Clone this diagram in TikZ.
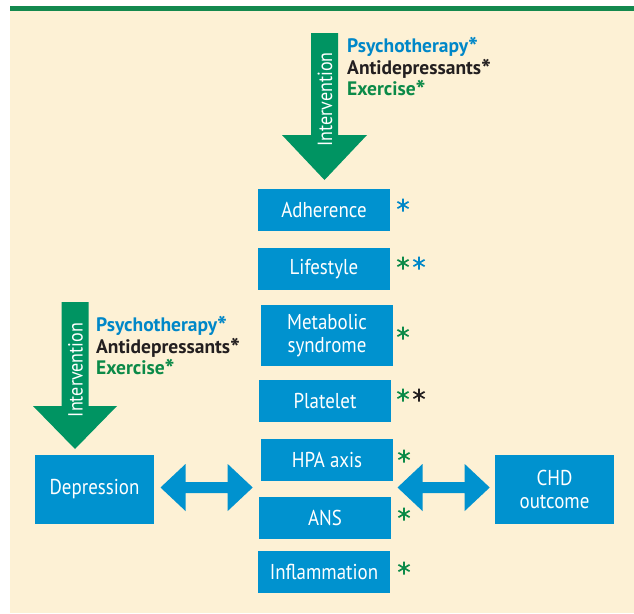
\documentclass[tikz,border=0pt]{standalone}
\usepackage{fontspec}
\setmainfont{PT Sans}
\newfontfamily\condfont[FakeStretch=0.88]{PT Sans}
\definecolor{cream}{HTML}{FDF1D5}
\definecolor{boxblue}{HTML}{0092CF}
\definecolor{arrgreen}{HTML}{009462}
\definecolor{linegreen}{HTML}{14894E}
\definecolor{txtblue}{HTML}{0087C8}
\definecolor{txtgreen}{HTML}{0B8A48}
\definecolor{txtblack}{HTML}{231F20}
\newcommand\bigast{\raisebox{-4pt}{\scalebox{1.35}{*}}}
\newcommand\treatlist{{\color{txtblue}Psychotherapy\bigast}\\{\color{txtblack}Antidepressants\bigast}\\{\color{txtgreen}Exercise\bigast}}
\begin{document}
\begin{tikzpicture}[x=1pt,y=-1pt,
  box/.style={fill=boxblue, text=white, inner sep=0pt, align=center,
    font=\condfont\fontsize{21.5}{22.5}\selectfont},
  sbox/.style={box, minimum width=132pt, minimum height=42pt},
  bbox/.style={box, minimum width=119pt, minimum height=69pt},
  side/.style={anchor=north west, inner sep=0pt, align=left,
    font=\bfseries\fontsize{19.5}{21.5}\selectfont},
  interv/.style={rotate=90, text=white, inner sep=0pt, font=\condfont\fontsize{20.5}{20.5}\selectfont},
  astk/.pic={\draw[line width=1.7pt, pic actions] (0,-6.5)--(0,6.5) (-5.6,-3.25)--(5.6,3.25) (-5.6,3.25)--(5.6,-3.25);},
  blockarrow/.style={fill=boxblue}
]
\useasboundingbox (0,0) rectangle (634,613);
\fill[white] (0,0) rectangle (634,613);
\fill[cream] (10,11) rectangle (634,613);
\fill[linegreen] (10,6) rectangle (634,11);

% intervention arrows
\fill[arrgreen] (311,33)--(338,33)--(338,135)--(367,135)--(324.5,180)--(282,135)--(311,135)--cycle;
\node[interv] (int1) at (325,99.5) {Intervention};
\fill[arrgreen] (61.5,302)--(88.5,302)--(88.5,406)--(117,406)--(75,449)--(33,406)--(61.5,406)--cycle;
\node[interv] (int2) at (75.5,370) {Intervention};

\node[side] (t1) at (347,37.5) {\treatlist};
\node[side] (t2) at (96,316.5) {\treatlist};

% boxes
\node[sbox] (adh) at (324,210) {Adherence};
\node[sbox] (life) at (324,269) {Lifestyle};
\node[sbox, minimum height=61pt] (meta) at (327,335.5) {Metabolic\\syndrome};
\node[sbox] (plat) at (325,401) {Platelet};
\node[sbox] (hpa) at (327,460) {HPA axis};
\node[sbox] (ans) at (325,518) {ANS};
\node[sbox] (infl) at (324,572) {Inflammation};
\node[bbox] (dep) at (94.5,489.5) {Depression};
\node[bbox] (chd) at (554.5,489.5) {CHD\\outcome};

% double arrows
\fill[blockarrow] (160.5,487.5)--(185.5,464)--(185.5,482)--(227.7,482)--(227.7,464)--(252.7,487.5)--(227.7,511)--(227.7,493)--(185.5,493)--(185.5,511)--cycle;
\fill[blockarrow] (397.5,487.5)--(422.5,464)--(422.5,482)--(464.7,482)--(464.7,464)--(489.7,487.5)--(464.7,511)--(464.7,493)--(422.5,493)--(422.5,511)--cycle;

% asterisks
\pic[draw=txtblue] at (403,205) {astk};
\pic[draw=txtgreen] at (403,263) {astk};
\pic[draw=txtblue] at (419,263) {astk};
\pic[draw=txtgreen] at (403,333) {astk};
\pic[draw=txtgreen] at (403,395) {astk};
\pic[draw=txtblack] at (419,395) {astk};
\pic[draw=txtgreen] at (404,456) {astk};
\pic[draw=txtgreen] at (404,514) {astk};
\pic[draw=txtgreen] at (404,568) {astk};
\end{tikzpicture}
\end{document}
